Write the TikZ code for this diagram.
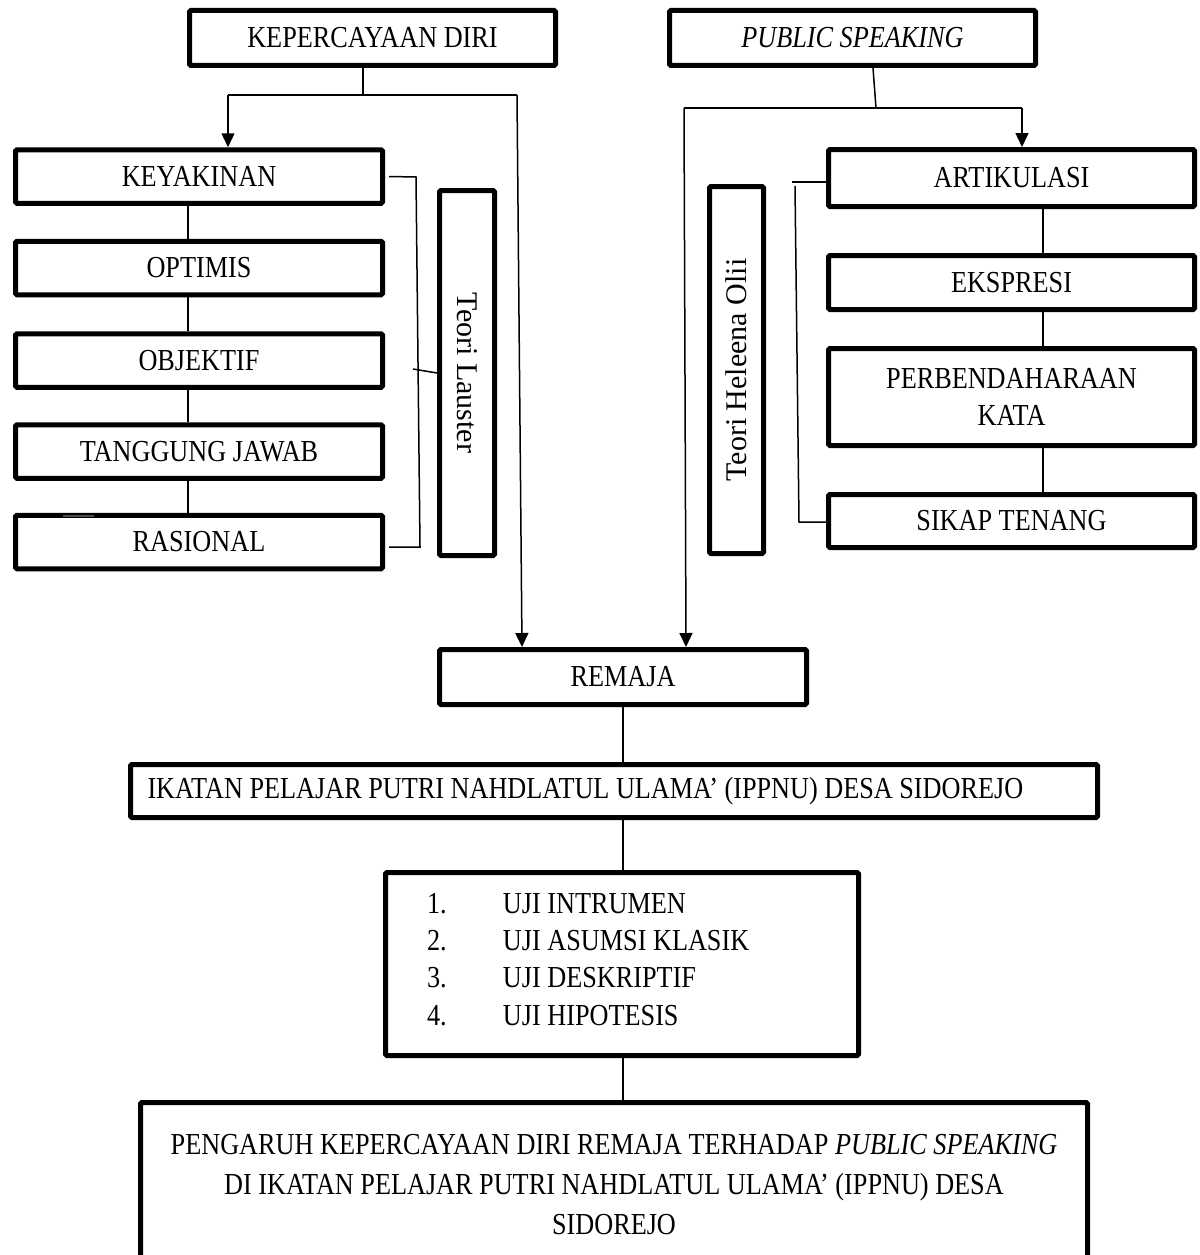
\documentclass[tikz,border=0pt]{standalone}
\usepackage{fontspec}
\setmainfont{Liberation Serif}
\newfontfamily\boxfont[FakeStretch=0.86]{Liberation Serif}
\usetikzlibrary{arrows.meta}

\begin{document}
\begin{tikzpicture}[x=1pt,y=-1pt,
        box/.style={draw,line width=5pt,rounded corners=1.5pt,inner sep=0pt,align=center,
            font=\boxfont\fontsize{30.5}{37.3}\selectfont},
        lbox/.style={box,minimum width=367pt,minimum height=53.5pt},
        rbox/.style={box,minimum width=366pt},
        teori/.style={box,font=\rmfamily\fontsize{30}{36}\selectfont},
        conn/.style={line width=1.5pt},
        arr/.style={line width=1.5pt,-{Triangle[width=13pt,length=14pt]}}]
        \useasboundingbox (0,0) rectangle (1199,1255);
        \clip (0,0) rectangle (1199,1255);

        \node[box,minimum width=366pt,minimum height=55pt] (kd) at (372.5,38) {KEPERCAYAAN DIRI};
        \node[box,minimum width=366pt,minimum height=55pt] (ps) at (852.5,38) {\itshape PUBLIC SPEAKING};

        \foreach \n/\y/\t in {keyakinan/176.5/KEYAKINAN,optimis/268/OPTIMIS,objektif/360.5/OBJEKTIF,
            tanggung/451.5/TANGGUNG JAWAB,rasional/542/RASIONAL}
            \node[lbox] (\n) at (199,\y) {\t};

        \node[rbox,minimum height=57pt] (artikulasi) at (1011.5,178) {ARTIKULASI};
        \node[rbox,minimum height=54pt] (ekspresi) at (1011.5,282.5) {EKSPRESI};
        \node[rbox,minimum height=97pt] (perbendaharaan) at (1011.5,397) {PERBENDAHARAAN\\KATA};
        \node[rbox,minimum height=53pt] (sikap) at (1011.5,521) {SIKAP TENANG};

        \node[teori,minimum width=55pt,minimum height=365pt] (lauster) at (467,373) {\rotatebox{-90}{Teori Lauster}};
        \node[teori,minimum width=54pt,minimum height=367pt] (heleena) at (736.5,370) {\rotatebox{90}{Teori Heleena Olii}};

        \node[box,minimum width=367pt,minimum height=55pt] (remaja) at (623,677) {REMAJA};
        \node[box,minimum width=967pt,minimum height=53pt] (ikatan) at (614,791)
            {\makebox[933pt][l]{IKATAN PELAJAR PUTRI NAHDLATUL ULAMA’ (IPPNU) DESA SIDOREJO}};
        \node[box,minimum width=473pt,minimum height=183pt,text depth=10pt] (uji) at (622,964)
            {\makebox[390pt][l]{\makebox[76pt][l]{1.}UJI INTRUMEN}\\
             \makebox[390pt][l]{\makebox[76pt][l]{2.}UJI ASUMSI KLASIK}\\
             \makebox[390pt][l]{\makebox[76pt][l]{3.}UJI DESKRIPTIF}\\
             \makebox[390pt][l]{\makebox[76pt][l]{4.}UJI HIPOTESIS}};
        \node[box,minimum width=947pt,minimum height=165pt,font=\boxfont\fontsize{30.5}{40}\selectfont] (hasil) at (614,1185)
            {PENGARUH KEPERCAYAAN DIRI REMAJA TERHADAP \textit{PUBLIC SPEAKING}\\
             DI IKATAN PELAJAR PUTRI NAHDLATUL ULAMA’ (IPPNU) DESA\\SIDOREJO};

        \coordinate (kdM) at (363,95);
        \coordinate (kdL) at (228,95);
        \coordinate (kdR) at (517,95);
        \draw[conn] (kdM |- kd.south) -- (kdM);
        \draw[conn] (kdL) -- (kdR);
        \draw[arr] (kdL) -- (kdL |- keyakinan.north);
        \draw[arr] (kdR) -- ([xshift=85pt]remaja.north west);

        \coordinate (psM) at (876,108);
        \coordinate (psL) at (684,108);
        \coordinate (psR) at (1022,108);
        \draw[conn] ([xshift=20.5pt]ps.south) -- (psM);
        \draw[conn] (psL) -- (psR);
        \draw[arr] (psR) -- (psR |- artikulasi.north);
        \draw[arr] (psL) -- ([xshift=249pt]remaja.north west);

        \foreach \a/\b in {keyakinan/optimis,optimis/objektif,objektif/tanggung,tanggung/rasional}
            \draw[conn] ([xshift=-11pt]\a.south) -- ([xshift=-11pt]\b.north);
        \foreach \a/\b in {artikulasi/ekspresi,ekspresi/perbendaharaan,perbendaharaan/sikap}
            \draw[conn] ([xshift=31.5pt]\a.south) -- ([xshift=31.5pt]\b.north);

        \coordinate (lbTop) at (416,177);
        \coordinate (lbBot) at (420,547);
        \coordinate (lbMid) at (413,369);
        \draw[conn] ([xshift=4pt]keyakinan.east) -- (lbTop) -- (lbBot) -- ([xshift=4pt]rasional.east |- lbBot);
        \draw[conn] (lbMid) -- (lauster.west);

        \coordinate (hbTop) at (792,182);
        \coordinate (hbV) at (795,186);
        \coordinate (hbBot) at (799,522);
        \draw[conn] ([yshift=-4pt]artikulasi.west) -- (hbTop);
        \draw[conn] (hbV) -- (hbBot) -- (sikap.west |- hbBot);

        \draw[line width=1.5pt,black!70] ([xshift=50pt,yshift=-3pt]rasional.north west) -- ++(31,0);

        \draw[conn] (remaja.south) -- (remaja.south |- ikatan.north);
        \draw[conn] (remaja.south |- ikatan.south) -- (remaja.south |- uji.north);
        \draw[conn] (remaja.south |- uji.south) -- (remaja.south |- hasil.north);
    \end{tikzpicture}
\end{document}
